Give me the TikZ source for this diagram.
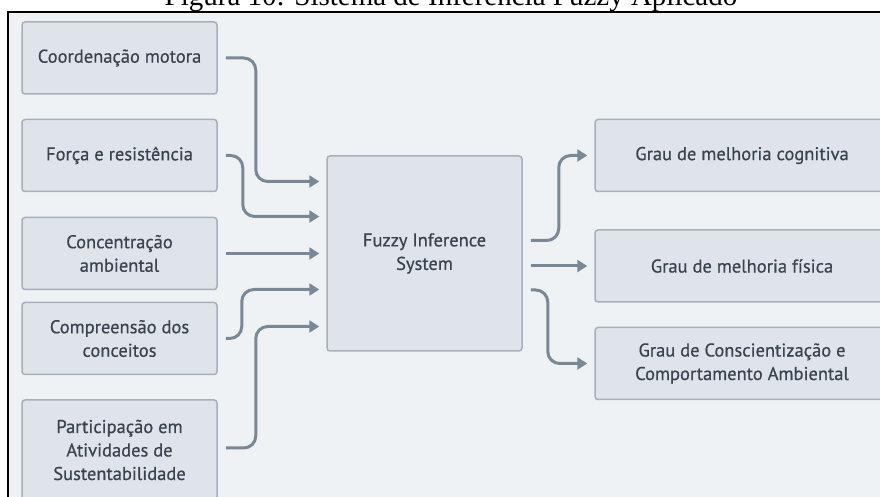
\documentclass[tikz,border=0pt]{standalone}
\usepackage{fontspec}
\setmainfont{Liberation Serif}
\newfontfamily\boxfont[FakeBold=0.6]{PT Sans}
\usetikzlibrary{arrows.meta}
\definecolor{bg}{HTML}{EEF2F5}
\definecolor{boxfill}{HTML}{DFE4EA}
\definecolor{boxborder}{HTML}{A5B0BC}
\definecolor{conncol}{HTML}{788896}
\definecolor{txt}{HTML}{3A444F}
\begin{document}
\begin{tikzpicture}[x=1pt,y=1pt,
  box/.style={draw=boxborder, fill=boxfill, rounded corners=3, line width=1.5,
    minimum height=72, inner sep=0, align=center,
    font=\boxfont\fontsize{18.5}{23.5}\selectfont, text=txt},
  lbox/.style={box, minimum width=195},
  conn/.style={draw=conncol, line width=3, rounded corners=12,
    -{Triangle[length=10,width=12]}}]
\useasboundingbox (0,0) rectangle (880,497);
\clip (0,0) rectangle (880,497);
\fill[white] (0,0) rectangle (880,497);
\fill[bg] (8,-5) rectangle (885,485);
\draw[line width=2] (885,485) -- (8,485) -- (8,-5);
\node[font=\fontsize{29}{29}\selectfont, anchor=base] (cap) at (451,491) {Figura 10: Sistema de Inferência Fuzzy Aplicado};

\node[lbox] (c1) at (119.5,439) {Coordenação motora};
\node[lbox] (c2) at (119.5,341.5) {Força e resistência};
\node[lbox] (c3) at (119.5,243.5) {Concentração\\ambiental};
\node[lbox] (c4) at (119.5,158.5) {Compreensão dos\\conceitos};
\node[lbox, minimum height=100] (c5) at (119.5,47) {Participação em\\Atividades de\\Sustentabilidade};

\node[box, minimum width=195, minimum height=195] (fis) at (424.5,243.5) {Fuzzy Inference\\System};

\node[box, minimum width=294] (r1) at (742,341.5) {Grau de melhoria cognitiva};
\node[box, minimum width=294] (r2) at (742,231) {Grau de melhoria física};
\node[box, minimum width=294] (r3) at (742,133.5) {Grau de Conscientização e\\Comportamento Ambiental};

\draw[conn] ([xshift=8]c1.east) -- ++(30,0) |- ([xshift=-7,yshift=72]fis.west);
\draw[conn] ([xshift=8]c2.east) -- ++(17,0) |- ([xshift=-7,yshift=37]fis.west);
\draw[conn] ([xshift=8]c3.east) -- ([xshift=-7]fis.west);
\draw[conn] ([xshift=8]c4.east) -- ++(16,0) |- ([xshift=-7,yshift=-36]fis.west);
\draw[conn] ([xshift=8,yshift=2]c5.east) -- ++(30,0) |- ([xshift=-7,yshift=-73]fis.west);

\draw[conn] ([xshift=8,yshift=13]fis.east) -- ++(28,0) |- ([xshift=-7]r1.west);
\draw[conn] ([xshift=8,yshift=-12.5]fis.east) -- ([xshift=-7]r2.west);
\draw[conn] ([xshift=8,yshift=-36.5]fis.east) -- ++(17,0) |- ([xshift=-7]r3.west);
\end{tikzpicture}
\end{document}
